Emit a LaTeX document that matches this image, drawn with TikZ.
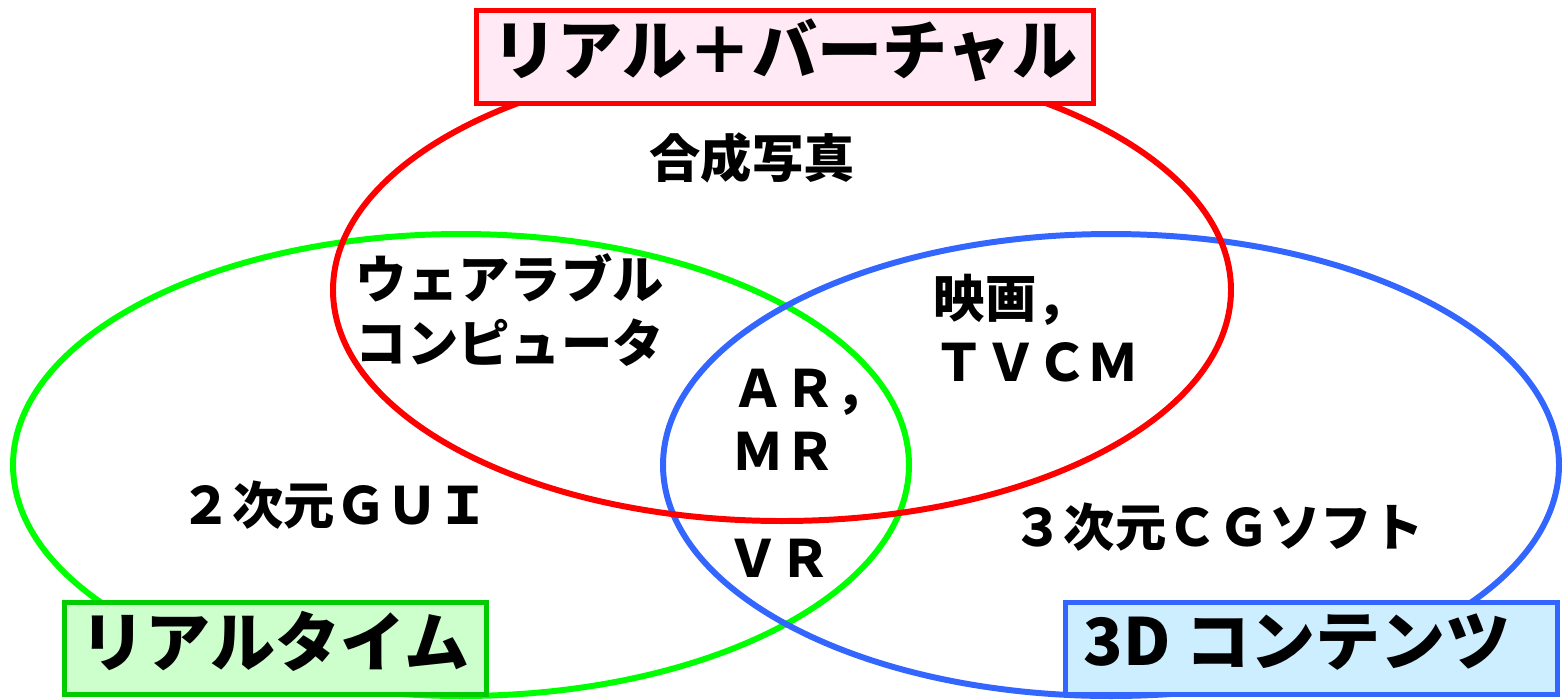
\documentclass[tikz,border=0pt]{standalone}
\usepackage{fontspec}
\newfontfamily\cjk{Noto Sans CJK JP}
\definecolor{vred}{HTML}{FF0000}
\definecolor{vgreen}{HTML}{00FF00}
\definecolor{vgreenb}{HTML}{00CC00}
\definecolor{vblue}{HTML}{3366FF}
\definecolor{pinkfill}{HTML}{FFE9F4}
\definecolor{greenfill}{HTML}{CCFFCC}
\definecolor{bluefill}{HTML}{CCEEFF}
\begin{document}
\begin{tikzpicture}[x=0.01cm,y=-0.01cm,
  ring/.style={line width=1.7pt},
  titlebox/.style={draw,line width=1.5pt,inner sep=0pt},
  titletext/.style={inner sep=0pt,font=\cjk\bfseries\fontsize{18.5}{22}\selectfont},
  lbl/.style={inner sep=0pt,font=\cjk\bfseries\fontsize{14.6}{18}\selectfont,align=left}]
\useasboundingbox (0,0) rectangle (1563,699);
% circles
\draw[ring,vgreen] (461,465) ellipse [x radius=448, y radius=231];
\draw[ring,vblue] (1111,465) ellipse [x radius=448, y radius=231];
\draw[ring,vred] (782,290) ellipse [x radius=449, y radius=231];
% title boxes
\node[titlebox,draw=vred,fill=pinkfill,minimum width=6.17cm,minimum height=0.93cm] (rvbox) at (785,57) {};
\node[titletext] (rvtext) at (785,50) {リアル＋バーチャル};
\node[titlebox,draw=vgreenb,fill=greenfill,minimum width=4.22cm,minimum height=0.92cm] (rtbox) at (275.5,648.5) {};
\node[titletext] (rttext) at (275,641) {リアルタイム};
\node[titlebox,draw=vblue,fill=bluefill,minimum width=4.92cm,minimum height=0.92cm] (cdbox) at (1311.5,648.5) {};
\node[titletext] (cdtext) at (1297,642) {3D コンテンツ};
% labels
\node[lbl] (photo) at (752,158) {合成写真};
\node[lbl,anchor=west] (wear) at (355,310) {ウェアラブル\\コンピュータ};
\node[lbl,anchor=west] (movie) at (933,328) {映画，\\ＴＶＣＭ};
\node[lbl,anchor=west] (armr) at (732,420) {ＡＲ，\\ＭＲ};
\node[lbl] (gui) at (335,505) {２次元ＧＵＩ};
\node[lbl] (vr) at (779,558) {ＶＲ};
\node[lbl] (cg) at (1218,527) {３次元ＣＧソフト};
\end{tikzpicture}
\end{document}
